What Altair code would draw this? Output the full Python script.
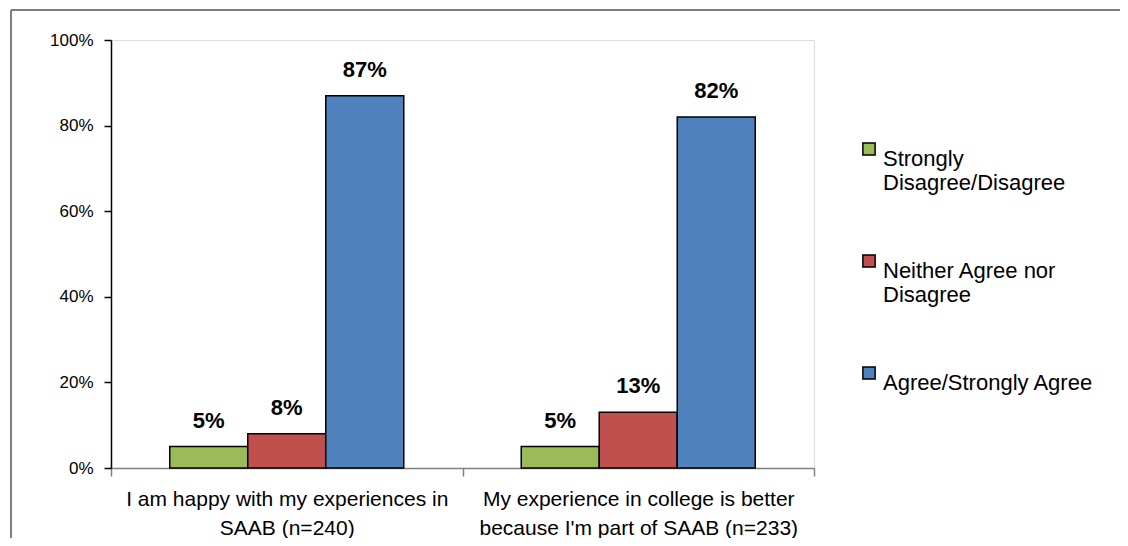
import altair as alt
import pandas as pd

categories = ["I am happy with my experiences in\nSAAB (n=240)",
              "My experience in college is better\nbecause I'm part of SAAB (n=233)"]
series = ["Strongly\nDisagree/Disagree", "Neither Agree nor\nDisagree", "Agree/Strongly Agree"]
values = {
    series[0]: [0.05, 0.05],
    series[1]: [0.08, 0.13],
    series[2]: [0.87, 0.82],
}
colors = ["#9BBB59", "#C0504D", "#4F81BD"]
y_ticks = [0, 0.2, 0.4, 0.6, 0.8, 1.0]

rows = []
for s in series:
    for c, v in zip(categories, values[s]):
        rows.append({"cat": c, "series": s, "value": v})
df = pd.DataFrame(rows)

FONT = "Liberation Sans, Arial"

x_enc = alt.X("cat:N", sort=categories, title=None,
              scale=alt.Scale(paddingInner=0, paddingOuter=0),
              axis=alt.Axis(labelAngle=0,
                            labelExpr="datum.value ? split(datum.value, '\\n') : ''",
                            labelFontSize=21, labelFont=FONT, labelColor="black",
                            labelLineHeight=29, labelPadding=12, labelBaseline="top",
                            labelLimit=500,
                            domainColor="#808080", tickColor="#808080", tickSize=8,
                            tickBand="extent", domainWidth=1.5, tickWidth=1.5))
xo_enc = alt.XOffset("series:N", sort=series,
                     scale=alt.Scale(paddingInner=0, paddingOuter=0.753))
y_enc = alt.Y("value:Q", title=None,
              scale=alt.Scale(domain=[0, 1], nice=False),
              axis=alt.Axis(values=y_ticks, format=".0%", grid=False,
                            labelFontSize=17, labelFont=FONT, labelColor="black",
                            labelPadding=11, tickSize=7, domainColor="black",
                            tickColor="black", domainWidth=1.5, tickWidth=1.5))

bars = alt.Chart(df).mark_bar(stroke="black", strokeWidth=1.5).encode(
    x=x_enc, xOffset=xo_enc, y=y_enc,
    color=alt.Color("series:N", sort=series,
                    scale=alt.Scale(domain=series, range=colors),
                    legend=alt.Legend(title=None, orient="none", legendX=747, legendY=98,
                                      labelExpr="split(datum.value, '\\n')",
                                      labelFontSize=22, labelFont=FONT, labelColor="black",
                                      labelBaseline="top",
                                      symbolType="square", symbolSize=150,
                                      symbolStrokeColor="black", symbolStrokeWidth=1.5,
                                      rowPadding=56, labelOffset=3, labelLimit=400)),
)

labels = alt.Chart(df).mark_text(baseline="bottom", dy=-14, fontSize=22,
                                 fontWeight="bold", font=FONT, color="black").encode(
    x=alt.X("cat:N", sort=categories), xOffset=alt.XOffset("series:N", sort=series),
    y="value:Q",
    text=alt.Text("value:Q", format=".0%"),
)

frame_left = alt.Chart(df).mark_rule(color="#7f7f7f", strokeWidth=2).encode(
    x=alt.value(-100), y=alt.value(-30), y2=alt.value(700))
frame_top = alt.Chart(df).mark_rule(color="#7f7f7f", strokeWidth=2).encode(
    x=alt.value(-100), x2=alt.value(1100), y=alt.value(-30))

chart = alt.layer(bars, labels, frame_left, frame_top).properties(
    width=703, height=428,
    padding={"left": 103, "top": 32, "right": 306, "bottom": 70},
    autosize=alt.AutoSizeParams(type="none"),
).configure_view(stroke=None).configure(background="white")

chart.save("out.html", embed_options={"renderer": "svg", "actions": False})
